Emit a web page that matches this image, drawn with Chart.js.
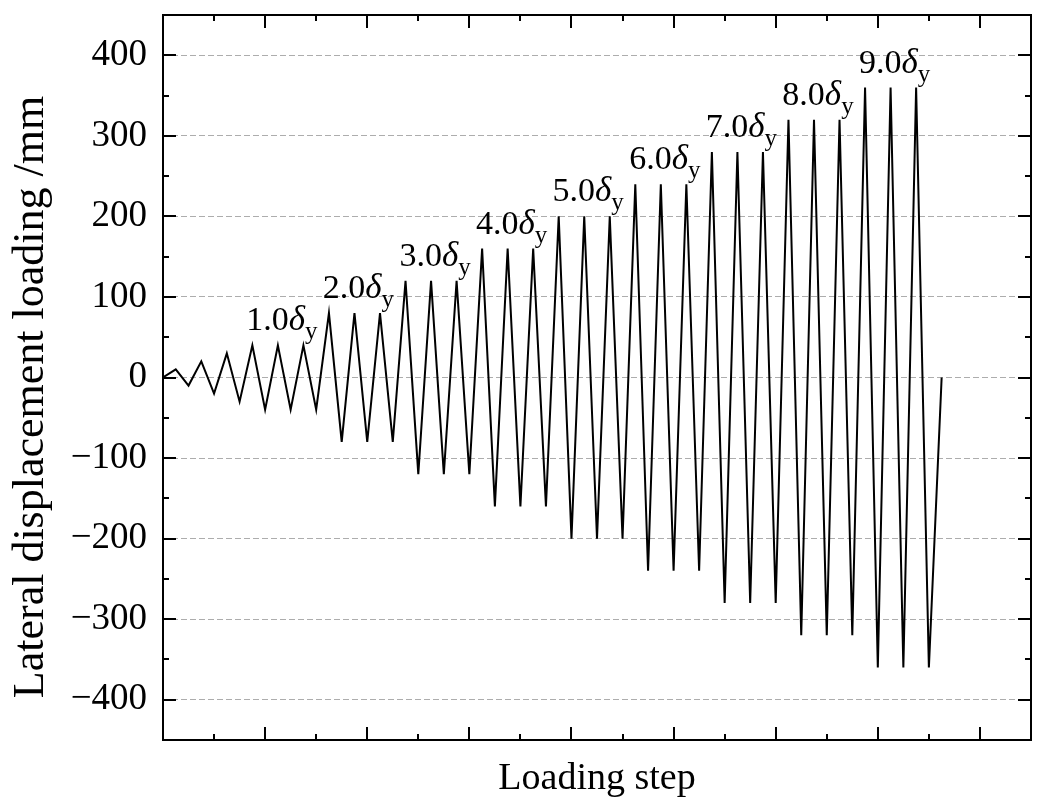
<!DOCTYPE html>
<html>
<head>
<meta charset="utf-8">
<script src="https://cdn.jsdelivr.net/npm/chart.js@4.4.1/dist/chart.umd.min.js"></script>
<style>
  html, body { margin: 0; padding: 0; background: #fff; }
  #wrap { width: 1038px; height: 798px; position: relative; }
</style>
</head>
<body>
<div id="wrap"><canvas id="chart"></canvas></div>
<script>
// cyclic loading protocol: displacement (mm) at each loading step
const displacement = [
    0, 10, -10, 20, -20, 30, -30,
    40, -40, 40, -40, 40, -40,
    80, -80, 80, -80, 80, -80,
    120, -120, 120, -120, 120, -120,
    160, -160, 160, -160, 160, -160,
    200, -200, 200, -200, 200, -200,
    240, -240, 240, -240, 240, -240,
    280, -280, 280, -280, 280, -280,
    320, -320, 320, -320, 320, -320,
    360, -360, 360, -360, 360, -360,
    0
];

// level labels and the step (middle peak) each one sits above
const levelNames = ['1.0', '2.0', '3.0', '4.0', '5.0', '6.0', '7.0', '8.0', '9.0'];
const levelSteps = [9, 15, 21, 27, 33, 39, 45, 51, 57];

const yTicks = [-400, -300, -200, -100, 0, 100, 200, 300, 400];

const SERIF = '"Liberation Serif", "Times New Roman", serif';

const points = displacement.map((v, i) => ({ x: i, y: v }));

// frame + inward tick marks on all four sides
const frameTicks = {
    id: 'frameTicks',
    afterDraw(chart) {
        const { ctx, chartArea: a, scales } = chart;
        const xs = scales.x, ys = scales.y;
        ctx.save();
        ctx.strokeStyle = '#000';
        ctx.lineWidth = 2;
        ctx.lineCap = 'butt';
        ctx.beginPath();
        for (let v = -450; v <= 450; v += 50) {
            const py = Math.round(ys.getPixelForValue(v));
            const len = v % 100 === 0 ? 13 : 6;
            ctx.moveTo(a.left, py); ctx.lineTo(a.left + len, py);
            ctx.moveTo(a.right, py); ctx.lineTo(a.right - len, py);
        }
        for (let s = 0; s <= 68; s += 4) {
            const px = Math.round(xs.getPixelForValue(s));
            const len = s % 8 === 0 ? 13 : 6;
            ctx.moveTo(px, a.bottom); ctx.lineTo(px, a.bottom - len);
            ctx.moveTo(px, a.top); ctx.lineTo(px, a.top + len);
        }
        ctx.stroke();
        ctx.strokeRect(a.left, a.top, a.right - a.left, a.bottom - a.top);

        // vertical axis title, sits a little below the plot centre
        ctx.fillStyle = '#000';
        ctx.font = '44px ' + SERIF;
        ctx.textAlign = 'center';
        ctx.textBaseline = 'middle';
        ctx.translate(31, 397);
        ctx.rotate(-Math.PI / 2);
        ctx.fillText('Lateral displacement loading /mm', 0, 0);
        ctx.restore();
    }
};

// "n.0 δy" labels above each loading level
const levelLabels = {
    id: 'levelLabels',
    afterDatasetsDraw(chart) {
        const { ctx, scales } = chart;
        ctx.save();
        ctx.fillStyle = '#000';
        ctx.textBaseline = 'alphabetic';
        ctx.textAlign = 'left';
        levelNames.forEach((name, i) => {
            const step = levelSteps[i];
            const cx = scales.x.getPixelForValue(step) + 4;
            const by = scales.y.getPixelForValue(displacement[step]) - 15;
            ctx.font = '34px ' + SERIF;
            const w1 = ctx.measureText(name).width;
            ctx.font = 'italic 35px ' + SERIF;
            const w2 = ctx.measureText('\u03b4').width;
            ctx.font = '25px ' + SERIF;
            const w3 = ctx.measureText('y').width;
            let x = cx - (w1 + w2 + w3) / 2;
            ctx.font = '34px ' + SERIF;
            ctx.fillText(name, x, by);
            x += w1;
            ctx.font = 'italic 35px ' + SERIF;
            ctx.fillText('\u03b4', x, by);
            x += w2;
            ctx.font = '25px ' + SERIF;
            ctx.fillText('y', x, by + 9);
        });
        ctx.restore();
    }
};

new Chart(document.getElementById('chart'), {
    type: 'line',
    data: {
        datasets: [{
            data: points,
            borderColor: '#000',
            borderWidth: 2,
            pointRadius: 0,
            tension: 0,
            fill: false
        }]
    },
    options: {
        responsive: true,
        maintainAspectRatio: false,
        animation: false,
        events: [],
        layout: { padding: { top: 15, right: 7, left: 0, bottom: 0 } },
        plugins: {
            legend: { display: false },
            tooltip: { enabled: false }
        },
        scales: {
            x: {
                type: 'linear',
                min: 0,
                max: 68,
                grid: { display: false },
                border: { display: false },
                ticks: { display: false },
                title: {
                    display: true,
                    text: 'Loading step',
                    color: '#000',
                    font: { family: SERIF, size: 38, lineHeight: 1 },
                    padding: { top: 0, bottom: 0 }
                },
                afterFit: (axis) => {
                    axis.height = 58;
                    axis.paddingLeft = 0;
                    axis.paddingRight = 0;
                }
            },
            y: {
                min: -450,
                max: 450,
                afterBuildTicks: (axis) => {
                    axis.ticks = yTicks.map(v => ({ value: v }));
                },
                grid: {
                    drawTicks: false,
                    color: '#adadad',
                    lineWidth: 1
                },
                border: { display: false, dash: [6, 3] },
                ticks: {
                    color: '#000',
                    padding: 16,
                    font: { family: SERIF, size: 37 },
                    callback: (v) => (v < 0 ? '\u2212' + Math.abs(v) : String(v))
                },
                afterFit: (axis) => {
                    axis.width = 163;
                    axis.paddingTop = 0;
                    axis.paddingBottom = 0;
                }
            }
        }
    },
    plugins: [levelLabels, frameTicks]
});
</script>
</body>
</html>
